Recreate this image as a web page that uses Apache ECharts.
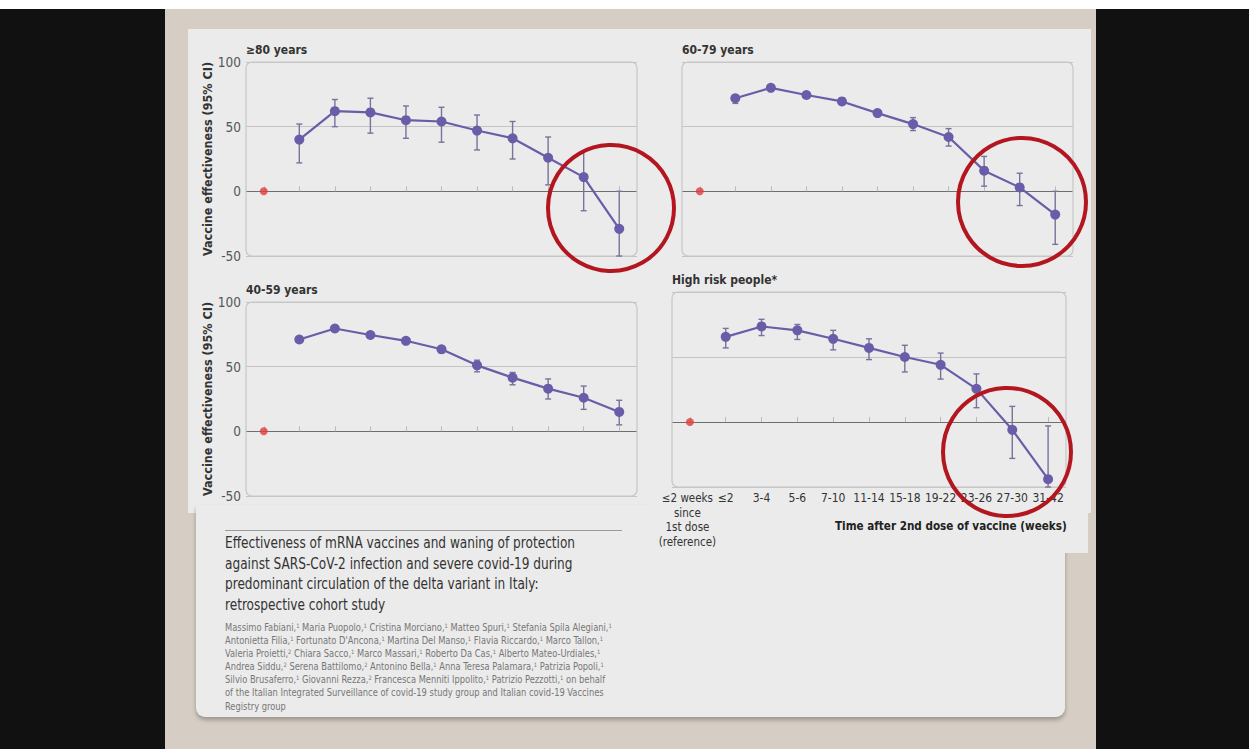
<!DOCTYPE html>
<html>
<head>
<meta charset="utf-8">
<script src="https://cdn.jsdelivr.net/npm/echarts@6/dist/echarts.min.js"></script>
<style>
  html, body { margin: 0; padding: 0; width: 1249px; height: 749px; background: #111; overflow: hidden; }
  .abs { position: absolute; }
  #strip { left: 0; top: 0; width: 1249px; height: 9px; background: #fff; }
  #beige { left: 165px; top: 9px; width: 931px; height: 740px; background: #d6cec4; }
  #panel { left: 188px; top: 29px; width: 903px; height: 484px; background: #ebebeb; }
  #ext { left: 650px; top: 500px; width: 438px; height: 53px; background: #ebebeb; }
  #card { left: 196px; top: 505px; width: 869px; height: 212px; background: #ebebeb;
          border-radius: 0 0 9px 9px; box-shadow: 0 3px 4px rgba(0,0,0,0.28); }
  #rule { left: 225px; top: 530px; width: 397px; height: 1px; background: #9a9a9a; }
  #title { left: 225px; top: 533px; width: 480px; font-family: "DejaVu Sans Condensed", "Liberation Sans Narrow", sans-serif;
           font-size: 15.5px; line-height: 20.5px; color: #333; white-space: nowrap;
           transform: scaleX(0.87); transform-origin: 0 0; }
  #authors { left: 225px; top: 621px; width: 440px; font-family: "DejaVu Sans Condensed", "Liberation Sans Narrow", sans-serif;
             font-size: 9.6px; line-height: 13.1px; color: #777; white-space: nowrap;
             transform: scaleX(0.965); transform-origin: 0 0; }
  #authors sup { font-size: 6px; vertical-align: 3px; line-height: 0; }
  #chart { left: 0; top: 0; width: 1249px; height: 749px; }
</style>
</head>
<body>
<div id="strip" class="abs"></div>
<div id="beige" class="abs"></div>
<div id="panel" class="abs"></div>
<div id="card" class="abs"></div>
<div id="ext" class="abs"></div>
<div id="rule" class="abs"></div>
<div id="title" class="abs">Effectiveness of mRNA vaccines and waning of protection<br>against SARS-CoV-2 infection and severe covid-19 during<br>predominant circulation of the delta variant in Italy:<br>retrospective cohort study</div>
<div id="authors" class="abs">Massimo Fabiani,<sup>1</sup> Maria Puopolo,<sup>1</sup> Cristina Morciano,<sup>1</sup> Matteo Spuri,<sup>1</sup> Stefania Spila Alegiani,<sup>1</sup><br>Antonietta Filia,<sup>1</sup> Fortunato D'Ancona,<sup>1</sup> Martina Del Manso,<sup>1</sup> Flavia Riccardo,<sup>1</sup> Marco Tallon,<sup>1</sup><br>Valeria Proietti,<sup>2</sup> Chiara Sacco,<sup>1</sup> Marco Massari,<sup>1</sup> Roberto Da Cas,<sup>1</sup> Alberto Mateo-Urdiales,<sup>1</sup><br>Andrea Siddu,<sup>2</sup> Serena Battilomo,<sup>2</sup> Antonino Bella,<sup>1</sup> Anna Teresa Palamara,<sup>1</sup> Patrizia Popoli,<sup>1</sup><br>Silvio Brusaferro,<sup>1</sup> Giovanni Rezza,<sup>2</sup> Francesca Menniti Ippolito,<sup>1</sup> Patrizio Pezzotti,<sup>1</sup> on behalf<br>of the Italian Integrated Surveillance of covid-19 study group and Italian covid-19 Vaccines<br>Registry group</div>
<div id="chart" class="abs"></div>
<script>
// Time bins after the 2nd dose; the first bin is the reference group
const categories = ['≤2 weeks\nsince\n1st dose\n(reference)', '≤2', '3-4', '5-6', '7-10', '11-14', '15-18', '19-22', '23-26', '27-30', '31-42'];
const yTicks = { min: -50, max: 100, step: 50 };
const panelTitles = ['≥80 years', '60-79 years', '40-59 years', 'High risk people*'];

// Vaccine effectiveness (%) with 95% CI, one set per group
const ve80 = [0, 40, 62, 61, 55, 54, 47, 41, 26, 11, -29];
const lo80 = [null, 22, 50, 45, 41, 38, 32, 25, 5, -15, -50];
const hi80 = [null, 52, 71, 72, 66, 65, 59, 54, 42, 31, 0];

const ve6079 = [0, 72, 80, 74.5, 69.5, 60.5, 52, 42, 16, 3, -18];
const lo6079 = [null, 68, 78, 72.5, 67.5, 58.5, 47, 35, 4, -11, -41];
const hi6079 = [null, 74.5, 82, 76.5, 71.5, 62.5, 57, 48.5, 27, 14, 0];

const ve4059 = [0, 71, 79.5, 74.5, 70, 63.5, 51, 41.5, 33, 26, 15];
const lo4059 = [null, 69.5, 78, 73, 68.5, 60.5, 46, 36, 25, 17, 5];
const hi4059 = [null, 72.5, 81, 76, 71.5, 65.5, 55, 45.5, 40.5, 35, 24];

const veHR = [0, 65.5, 73.5, 70.5, 64, 57, 50, 44, 25.5, -6, -44];
const loHR = [null, 57, 66.5, 63.5, 55.5, 48, 38.5, 33, 11, -28, -50];
const hiHR = [null, 72, 79, 75, 70.5, 64, 59, 53, 37, 12, -3];

const FONT = '"DejaVu Sans Condensed", "Liberation Sans Narrow", sans-serif';
const PURPLE = '#6a5ca8';
const BAR = '#77739a';
const REF = '#e23b3b';
const CIRCLE = '#b3161f';

const grids = [
  { left: 246, top: 62, width: 391, height: 194 },
  { left: 682, top: 62, width: 391, height: 194 },
  { left: 246, top: 302, width: 391, height: 194 },
  { left: 672, top: 292, width: 394, height: 195 }
];
const groups = [
  [ve80, lo80, hi80],
  [ve6079, lo6079, hi6079],
  [ve4059, lo4059, hi4059],
  [veHR, loHR, hiHR]
];
const showY = [true, false, true, false];
const showX = [false, false, false, true];

const chart = echarts.init(document.getElementById('chart'), null, { renderer: 'svg' });

// the reference-bin label is a bit tighter and nudged left so it clears "≤2"
function xLabel(value, idx) {
  if (idx === 0) return value.split('\n').map(l => '{r|' + l + '}').join('\n');
  return value;
}

const xAxes = grids.map((g, i) => ({
  type: 'category', gridIndex: i, data: categories, boundaryGap: true,
  axisLine: { show: false },
  axisTick: { show: true, inside: true, alignWithLabel: true, length: 5, lineStyle: { color: '#b9b9b9', width: 1 } },
  axisLabel: {
    show: showX[i], interval: 0, fontFamily: FONT, fontSize: 12, color: '#333', lineHeight: 14.5, margin: 4,
    formatter: xLabel,
    rich: { r: { fontFamily: FONT, fontSize: 11.5, color: '#333', lineHeight: 14.5, padding: [0, 5, 0, 0] } }
  },
  splitLine: { show: false }
}));

const yAxes = grids.map((g, i) => ({
  type: 'value', gridIndex: i, min: yTicks.min, max: yTicks.max, interval: yTicks.step,
  axisLine: { show: false }, axisTick: { show: false },
  axisLabel: { show: showY[i], fontFamily: FONT, fontSize: 13.5, color: '#555', margin: 5 },
  splitLine: { show: true, lineStyle: { color: ['#c4c4c4', '#6e6e6e', '#c4c4c4', '#c4c4c4'], width: 1.2 } },
  name: showY[i] ? 'Vaccine effectiveness (95% CI)' : '',
  nameLocation: 'middle', nameRotate: 90, nameGap: 30,
  nameTextStyle: { fontFamily: FONT, fontSize: 12.5, fontWeight: 'bold', color: '#333' }
}));

const series = [];
groups.forEach(([ve, lo, hi], i) => {
  const pts = [], bars = [];
  for (let k = 1; k < categories.length; k++) {
    pts.push([k, ve[k]]);
    bars.push([k, lo[k], hi[k]]);
  }
  series.push({
    type: 'custom', xAxisIndex: i, yAxisIndex: i, data: bars, z: 3, silent: true,
    renderItem: function (params, api) {
      const top = api.coord([api.value(0), api.value(2)]);
      const bot = api.coord([api.value(0), api.value(1)]);
      const cap = 3;
      const st = { stroke: BAR, lineWidth: 1.4 };
      return {
        type: 'group', children: [
          { type: 'line', shape: { x1: top[0], y1: top[1], x2: bot[0], y2: bot[1] }, style: st },
          { type: 'line', shape: { x1: top[0] - cap, y1: top[1], x2: top[0] + cap, y2: top[1] }, style: st },
          { type: 'line', shape: { x1: bot[0] - cap, y1: bot[1], x2: bot[0] + cap, y2: bot[1] }, style: st }
        ]
      };
    }
  });
  series.push({
    type: 'line', xAxisIndex: i, yAxisIndex: i, data: pts, z: 4, silent: true,
    symbol: 'circle', symbolSize: 10,
    lineStyle: { color: PURPLE, width: 2.2 }, itemStyle: { color: PURPLE }
  });
  series.push({
    type: 'scatter', xAxisIndex: i, yAxisIndex: i, data: [[0, ve[0]]], z: 4, silent: true,
    symbolSize: 8, itemStyle: { color: REF }
  });
});

const graphics = [];
// rounded frames around each plot area
grids.forEach(g => {
  graphics.push({
    type: 'rect', z: 1, silent: true,
    shape: { x: g.left, y: g.top, width: g.width, height: g.height, r: 6 },
    style: { fill: 'none', stroke: '#c7c7c7', lineWidth: 1.2 }
  });
});
graphics.push({
  type: 'text', left: 835, top: 520, z: 5,
  style: { text: 'Time after 2nd dose of vaccine (weeks)', font: 'bold 11.6px ' + FONT, fill: '#222' }
});
// highlight rings around the latest time bins
[[611, 208, 63], [1022, 202, 64], [1007, 452, 64]].forEach(c => {
  graphics.push({
    type: 'circle', z: 10, silent: true,
    shape: { cx: c[0], cy: c[1], r: c[2] },
    style: { fill: 'none', stroke: CIRCLE, lineWidth: 4 }
  });
});

chart.setOption({
  backgroundColor: 'transparent',
  animation: false,
  title: panelTitles.map((t, i) => ({
    text: t, left: grids[i].left, top: grids[i].top - 18, padding: 0,
    textStyle: { fontFamily: FONT, fontSize: 12, fontWeight: 'bold', color: '#333' }
  })),
  grid: grids,
  xAxis: xAxes,
  yAxis: yAxes,
  series: series,
  graphic: graphics
});
</script>
</body>
</html>
